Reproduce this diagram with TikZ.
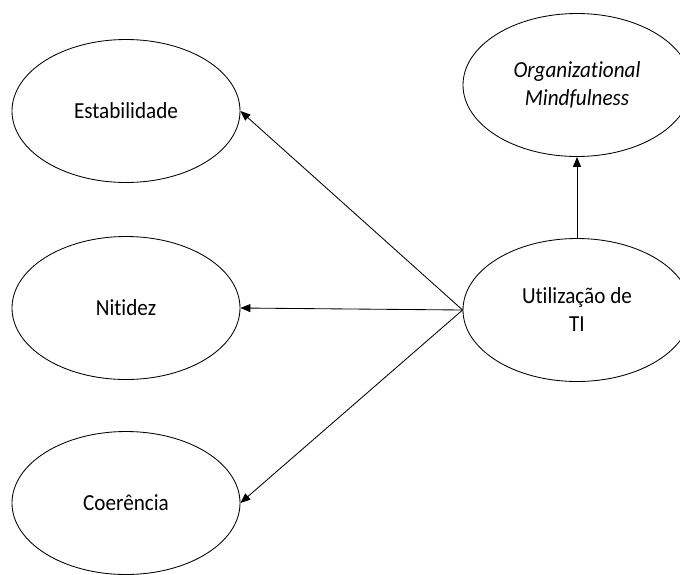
\documentclass[tikz,border=0pt]{standalone}
\usepackage{fontspec}
\setmainfont{Carlito}[Ligatures={NoCommon}, FakeStretch=0.92]
\usetikzlibrary{shapes.geometric,arrows.meta}
\begin{document}
\begin{tikzpicture}[x=1pt,y=-1pt,
  construct/.style={draw, line width=0.85pt, ellipse, minimum width=228pt, minimum height=143pt, inner sep=0pt, align=center, font=\fontsize{23}{28}\selectfont},
  link/.style={draw, line width=0.85pt, -{Triangle[length=10pt,width=8pt]}}]
\clip (0,0) rectangle (680,574);
\fill[white] (0,0) rectangle (680,574);
\node[construct] (est) at (126,111) {Estabilidade};
\node[construct] (nit) at (126,308) {Nitidez};
\node[construct] (coe) at (126,503) {Coerência};
\node[construct] (org) at (577,85) {\itshape Organizational\\\itshape Mindfulness};
\node[construct] (uti) at (577,310) {Utilização de\\TI};
\draw[link] (uti.west) -- (est.east);
\draw[link] (uti.west) -- (nit.east);
\draw[link] (uti.west) -- (coe.east);
\draw[link] (uti.north) -- (org.south);
\end{tikzpicture}
\end{document}
